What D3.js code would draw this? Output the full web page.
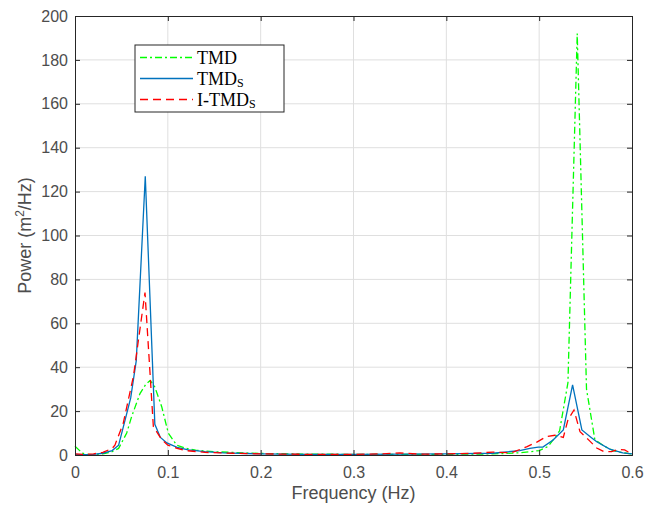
<!DOCTYPE html>
<html>
<head>
<meta charset="utf-8">
<script src="https://cdn.jsdelivr.net/npm/d3@7"></script>
<style>
  html, body { margin: 0; padding: 0; background: #fff; }
  svg { display: block; }
  .tick text { font-family: "Liberation Sans", Arial, sans-serif; font-size: 16px; fill: #4d4d4d; }
</style>
</head>
<body>
<div id="root"></div>
<script>
// frequency (Hz) and power spectral density (m^2/Hz) for each case
const tmdFreq = [0, 0.005, 0.01, 0.02, 0.03, 0.04, 0.047, 0.0557, 0.061, 0.07, 0.076, 0.081, 0.086, 0.0934, 0.1005, 0.1095, 0.12, 0.13, 0.15, 0.18, 0.2, 0.25, 0.3, 0.35, 0.4, 0.45, 0.48, 0.5, 0.51, 0.522, 0.531, 0.541, 0.551, 0.56, 0.57, 0.58, 0.59, 0.6];
const tmdPower = [4, 2, 0.3, 0.2, 0.5, 1.5, 3, 10, 17.5, 28, 32, 34, 31, 22, 10, 4.5, 3, 2.2, 1.5, 1, 0.7, 0.4, 0.3, 0.3, 0.3, 0.5, 1, 2, 4, 11, 33, 192, 30, 7, 4, 2, 1, 0.5];

const tmdsFreq = [0, 0.01, 0.02, 0.03, 0.04, 0.047, 0.054, 0.06, 0.066, 0.0757, 0.086, 0.092, 0.099, 0.11, 0.122, 0.14, 0.16, 0.2, 0.25, 0.3, 0.35, 0.4, 0.45, 0.479, 0.49, 0.499, 0.504, 0.515, 0.526, 0.536, 0.546, 0.556, 0.562, 0.576, 0.59, 0.6];
const tmdsPower = [0.3, 0.2, 0.3, 0.8, 2, 4.5, 16, 26, 43, 127, 14, 8, 5.5, 3.5, 2.3, 1.5, 1, 0.5, 0.3, 0.3, 0.4, 0.5, 0.8, 2, 3, 3.6, 3.6, 6.8, 11.4, 32, 11.4, 8, 6, 2.7, 1, 0.5];

const itmdsFreq = [0, 0.01, 0.02, 0.03, 0.04, 0.043, 0.052, 0.063, 0.0754, 0.0844, 0.0934, 0.1, 0.11, 0.12, 0.14, 0.17, 0.2, 0.25, 0.3, 0.33, 0.35, 0.37, 0.4, 0.43, 0.45, 0.47, 0.487, 0.498, 0.508, 0.517, 0.526, 0.531, 0.5375, 0.544, 0.553, 0.562, 0.57, 0.578, 0.585, 0.592, 0.6];
const itmdsPower = [0.5, 0.3, 0.5, 1.2, 3, 4.5, 14.5, 36, 74, 13, 7, 4.5, 3, 2, 1.2, 0.8, 0.5, 0.3, 0.3, 0.5, 1, 0.4, 0.5, 0.8, 1.3, 1, 3.8, 6, 8.4, 9, 8, 16, 20.5, 10.6, 7, 3.2, 1.5, 1.5, 2.6, 2.3, 0.5];

const xTicks = [0, 0.1, 0.2, 0.3, 0.4, 0.5, 0.6];
const yTicks = [0, 20, 40, 60, 80, 100, 120, 140, 160, 180, 200];

const width = 647;
const height = 506;
const margin = { left: 75, right: 15, top: 16, bottom: 51 };

const svg = d3
  .select("#root")
  .append("svg")
  .attr("width", width)
  .attr("height", height);

const x = d3.scaleLinear().domain([0, 0.6]).range([margin.left, width - margin.right]);
const y = d3.scaleLinear().domain([0, 200]).range([height - margin.bottom, margin.top]);

// grid
svg
  .append("g")
  .selectAll("line.gx")
  .data(xTicks.slice(1, -1))
  .join("line")
  .attr("x1", (d) => x(d))
  .attr("x2", (d) => x(d))
  .attr("y1", y(0))
  .attr("y2", y(200))
  .attr("stroke", "#dfdfdf")
  .attr("stroke-width", 1);

svg
  .append("g")
  .selectAll("line.gy")
  .data(yTicks.slice(1, -1))
  .join("line")
  .attr("x1", x(0))
  .attr("x2", x(0.6))
  .attr("y1", (d) => y(d))
  .attr("y2", (d) => y(d))
  .attr("stroke", "#dfdfdf")
  .attr("stroke-width", 1);

// series
const series = [
  { name: "TMD", f: tmdFreq, p: tmdPower, color: "#00ff00", dash: "7,3,2,3" },
  { name: "TMDs", f: tmdsFreq, p: tmdsPower, color: "#0072bd", dash: null },
  { name: "I-TMDs", f: itmdsFreq, p: itmdsPower, color: "#ff0000", dash: "8,5" },
];

const line = d3
  .line()
  .x((d) => x(d[0]))
  .y((d) => y(d[1]));

svg
  .append("g")
  .selectAll("path")
  .data(series)
  .join("path")
  .attr("d", (s) => line(s.f.map((f, i) => [f, s.p[i]])))
  .attr("fill", "none")
  .attr("stroke", (s) => s.color)
  .attr("stroke-width", 1.3)
  .attr("stroke-dasharray", (s) => s.dash);

// axes (inward ticks on all sides, MATLAB style)
const axisColor = "#262626";
const xAxis = svg
  .append("g")
  .attr("transform", `translate(0,${y(0)})`)
  .call(d3.axisBottom(x).tickValues(xTicks).tickSize(-5).tickPadding(12).tickFormat(d3.format("")));
const yAxis = svg
  .append("g")
  .attr("transform", `translate(${x(0)},0)`)
  .call(d3.axisLeft(y).tickValues(yTicks).tickSize(-5).tickPadding(7));
const xTop = svg
  .append("g")
  .attr("transform", `translate(0,${y(200)})`)
  .call(d3.axisTop(x).tickValues(xTicks).tickSize(-5).tickFormat(""));
const yRight = svg
  .append("g")
  .attr("transform", `translate(${x(0.6)},0)`)
  .call(d3.axisRight(y).tickValues(yTicks).tickSize(-5).tickFormat(""));

[xAxis, yAxis, xTop, yRight].forEach((g) => {
  g.select(".domain").attr("stroke", axisColor).attr("stroke-width", 1);
  g.selectAll(".tick line").attr("stroke", axisColor);
});

// axis labels
svg
  .append("text")
  .text("Frequency (Hz)")
  .attr("x", (x(0) + x(0.6)) / 2)
  .attr("y", 499)
  .attr("text-anchor", "middle")
  .attr("font-family", "Liberation Sans, Arial, sans-serif")
  .attr("font-size", 18)
  .attr("fill", "#4d4d4d");

const yLabel = svg
  .append("text")
  .attr("transform", `translate(31,${(y(0) + y(200)) / 2}) rotate(-90)`)
  .attr("text-anchor", "middle")
  .attr("font-family", "Liberation Sans, Arial, sans-serif")
  .attr("font-size", 18)
  .attr("fill", "#4d4d4d");
yLabel.append("tspan").text("Power (m");
yLabel.append("tspan").text("2").attr("font-size", 12).attr("dy", -7);
yLabel.append("tspan").text("/Hz)").attr("dy", 7);

// legend
const legend = svg.append("g").attr("transform", "translate(135,45)");
legend
  .append("rect")
  .attr("width", 149)
  .attr("height", 67)
  .attr("fill", "#fff")
  .attr("stroke", "#262626")
  .attr("stroke-width", 1);

const item = legend
  .selectAll("g")
  .data(series)
  .join("g")
  .attr("transform", (d, i) => `translate(0,${12.5 + i * 21})`);

item
  .append("line")
  .attr("x1", 5)
  .attr("x2", 58)
  .attr("stroke", (d) => d.color)
  .attr("stroke-width", 1.3)
  .attr("stroke-dasharray", (d) => d.dash);

const label = item
  .append("text")
  .attr("x", 62)
  .attr("y", 6)
  .attr("font-family", "Liberation Serif, Times New Roman, serif")
  .attr("font-size", 18)
  .attr("textLength", null)
  .attr("fill", "#000");

label.append("tspan").text((d) => (d.name.endsWith("s") ? d.name.slice(0, -1) : d.name));
label
  .filter((d) => d.name.endsWith("s"))
  .append("tspan")
  .text("S")
  .attr("font-size", 12)
  .attr("dy", 2);
</script>
</body>
</html>
